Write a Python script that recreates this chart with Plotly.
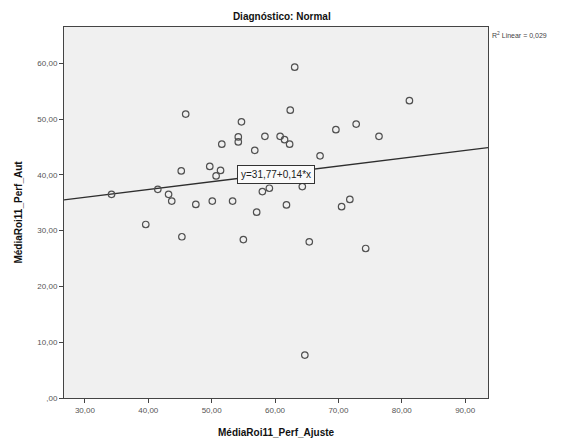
import plotly.graph_objects as go

# Scatter data: MédiaRoi11_Perf_Ajuste (x) vs MédiaRoi11_Perf_Aut (y)
perf_ajuste = [34.2, 39.6, 41.5, 43.2, 43.7, 45.2, 45.3, 45.9, 47.5, 49.7,
               50.1, 50.7, 51.4, 51.6, 53.3, 54.2, 54.2, 54.7, 55.0, 56.8,
               57.1, 58.0, 58.4, 59.1, 60.8, 61.5, 61.8, 62.3, 62.4, 63.1,
               64.3, 64.7, 65.4, 67.1, 69.6, 70.5, 71.8, 72.8, 74.3, 76.4,
               81.2]
perf_aut = [36.5, 31.1, 37.4, 36.5, 35.3, 40.7, 28.9, 50.9, 34.7, 41.5,
            35.3, 39.8, 40.8, 45.5, 35.3, 46.8, 45.9, 49.5, 28.4, 44.4,
            33.3, 37.0, 46.9, 37.6, 46.9, 46.3, 34.6, 45.5, 51.6, 59.3,
            37.9, 7.7, 28.0, 43.4, 48.1, 34.3, 35.6, 49.1, 26.8, 46.9,
            53.3]

# Linear fit coefficients and R squared
intercept = 31.77
slope = 0.14
r_squared = 0.029

x_ticks = [30, 40, 50, 60, 70, 80, 90]
x_ticktext = ["30,00", "40,00", "50,00", "60,00", "70,00", "80,00", "90,00"]
y_ticks = [0, 10, 20, 30, 40, 50, 60]
y_ticktext = [",00", "10,00", "20,00", "30,00", "40,00", "50,00", "60,00"]

x_range = [26.7, 93.6]
y_range = [0, 66.5]

font_family = "Arial, Liberation Sans, sans-serif"


def fmt_comma(v, digits):
    return f"{v:.{digits}f}".replace(".", ",")


fig = go.Figure()

fit_x = x_range
fit_y = [intercept + slope * v for v in fit_x]
fig.add_trace(go.Scatter(
    x=fit_x, y=fit_y, mode="lines",
    line=dict(color="#2e2e2e", width=1.4),
    hoverinfo="skip", showlegend=False,
))

fig.add_trace(go.Scatter(
    x=perf_ajuste, y=perf_aut, mode="markers",
    marker=dict(symbol="circle-open", size=6.5, color="#505050",
                line=dict(width=1.2, color="#505050")),
    showlegend=False,
))

eq_text = f"y={fmt_comma(intercept, 2)}+{fmt_comma(slope, 2)}*x"
fig.add_annotation(
    x=60.2, y=40.1, xref="x", yref="y", text=eq_text, showarrow=False,
    font=dict(family=font_family, size=10, color="#222222"),
    bgcolor="#fafafa", bordercolor="#333333", borderwidth=1, borderpad=3,
)

fig.add_annotation(
    x=1.004, y=0.978, xref="paper", yref="paper", xanchor="left", yanchor="middle",
    text=f"R<sup>2</sup> Linear = {fmt_comma(r_squared, 3)}", showarrow=False,
    font=dict(family=font_family, size=7, color="#444444"),
)

# x-axis title placed as an annotation so it can sit lower than the margin allows
fig.add_annotation(
    x=0.5, y=-0.094, xref="paper", yref="paper", xanchor="center", yanchor="middle",
    text="<b>MédiaRoi11_Perf_Ajuste</b>", showarrow=False,
    font=dict(family=font_family, size=10, color="#111111"),
)

fig.update_layout(
    width=567, height=443,
    margin=dict(l=64, r=79, t=27, b=45),
    paper_bgcolor="white", plot_bgcolor="#f0f0f0",
    title=dict(text="<b>Diagnóstico: Normal</b>", x=0.497, xanchor="center",
               y=0.962, yanchor="middle",
               font=dict(family=font_family, size=10, color="#111111")),
    font=dict(family=font_family),
)

fig.update_xaxes(
    range=x_range, tickvals=x_ticks, ticktext=x_ticktext,
    showgrid=False, zeroline=False,
    showline=True, mirror=True, linecolor="#444444", linewidth=1,
    ticks="outside", ticklen=4, tickcolor="#444444",
    tickfont=dict(family=font_family, size=8, color="#555555"),
)
fig.update_yaxes(
    range=y_range, tickvals=y_ticks, ticktext=y_ticktext,
    showgrid=False, zeroline=False,
    showline=True, mirror=True, linecolor="#444444", linewidth=1,
    ticks="outside", ticklen=4, tickcolor="#444444",
    tickfont=dict(family=font_family, size=8, color="#555555"),
    title=dict(text="<b>MédiaRoi11_Perf_Aut</b>", standoff=12,
               font=dict(family=font_family, size=10, color="#111111")),
)

fig.write_html("out.html")
